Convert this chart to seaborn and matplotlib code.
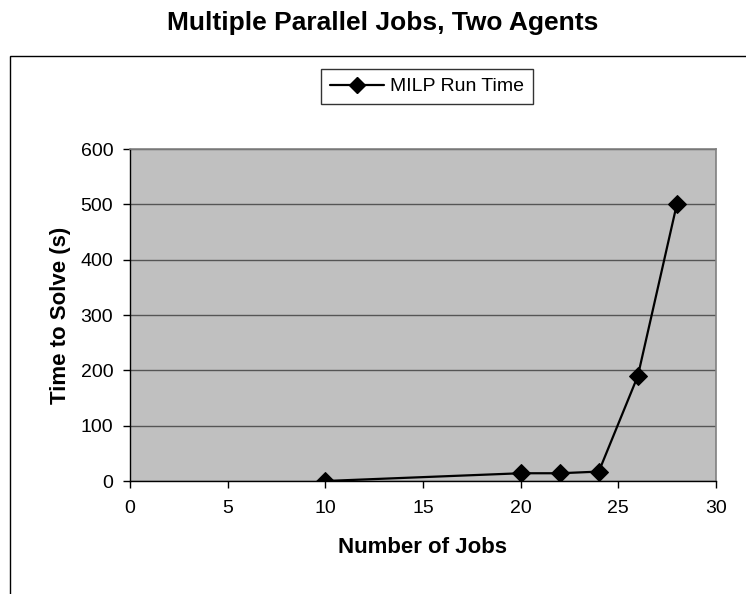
import matplotlib
matplotlib.use("Agg")
import matplotlib.pyplot as plt
import seaborn as sns
import pandas as pd
from matplotlib.patches import Rectangle

# data
jobs = [10, 20, 22, 24, 26, 28]
run_time = [0, 14, 14, 17, 190, 501]
series_name = "MILP Run Time"

sns.set_style("white")
plt.rcParams['font.family'] = ['Liberation Sans', 'DejaVu Sans']
plt.rcParams.update({"text.color": "black", "axes.labelcolor": "black",
                     "xtick.color": "black", "ytick.color": "black"})

df = pd.DataFrame({"jobs": jobs, "time": run_time, "series": series_name})

fig = plt.figure(figsize=(7.46, 5.94), dpi=100)
W, H = 746, 594
# plot area in pixels: x 130..716, y 149..481
ax = fig.add_axes([130 / W, 1 - 481 / H, (716 - 130) / W, (481 - 149) / H])
ax.set_facecolor("#c0c0c0")

sns.lineplot(data=df, x="jobs", y="time", hue="series", palette=["black"],
             marker="D", markersize=9, markeredgecolor="black", linewidth=1.6,
             ax=ax, legend=False)

ax.set_xlim(0, 30)
ax.set_ylim(0, 600)
ax.set_xticks(range(0, 31, 5))
ax.set_yticks(range(0, 601, 100))
ax.yaxis.grid(True, color="#555555", linewidth=1)
ax.set_axisbelow(True)
for s in ["top", "right"]:
    ax.spines[s].set_color("#808080")
    ax.spines[s].set_linewidth(1.2)
for s in ["left", "bottom"]:
    ax.spines[s].set_color("black")
    ax.spines[s].set_linewidth(1)
ax.tick_params(axis="both", which="major", direction="out", length=5, width=1,
               color="black", labelcolor="black", labelsize=14, bottom=True, left=True)
ax.tick_params(axis="x", pad=9)
ax.tick_params(axis="y", pad=7)
ax.set_xlabel("Number of Jobs", fontsize=16, fontweight="bold", labelpad=14, color="black")
ax.set_ylabel("Time to Solve (s)", fontsize=16, fontweight="bold", labelpad=7, color="black")

fig.text(383 / W, 1 - 30 / H, "Multiple Parallel Jobs, Two Agents", fontsize=19,
         fontweight="bold", ha="center", va="baseline", color="black")

# outer chart frame
fig.patches.append(Rectangle((10 / W, -0.1), 1.0, 1 - 56 / H + 0.1, transform=fig.transFigure,
                             fill=False, edgecolor="black", linewidth=1))

# legend box
line_handle = plt.Line2D([], [], color="black", marker="D", markersize=8, linewidth=1.6)
leg = fig.legend([line_handle], [series_name], loc="center",
                 bbox_to_anchor=(427 / W, 1 - 86.5 / H), fontsize=14, frameon=True,
                 fancybox=False, edgecolor="black", handlelength=2.8, handletextpad=0.3,
                 borderpad=0.45, labelcolor="black")
leg.get_frame().set_linewidth(1)

fig.savefig("out.png", dpi=100)
